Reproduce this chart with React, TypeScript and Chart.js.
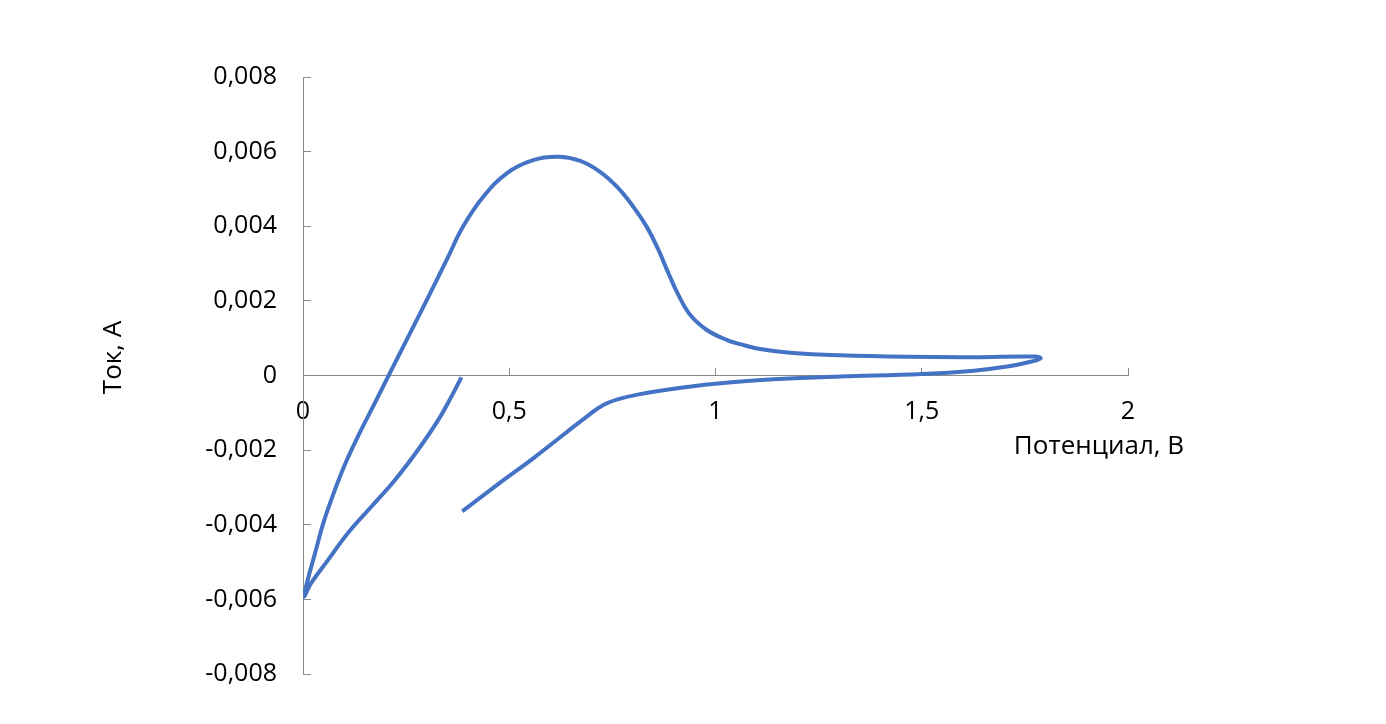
import React, { useEffect, useRef } from "react";
import { Chart, registerables } from "chart.js";

Chart.register(...registerables);

// Potential (V) and current (A) along the measured path
const potential = [
  0.386, 0.477, 0.558, 0.639, 0.688, 0.728, 0.769, 0.817, 0.866, 0.930, 0.999,
  1.141, 1.303, 1.501, 1.626, 1.707, 1.764, 1.788, 1.776,
  1.626, 1.464, 1.303, 1.181, 1.108, 1.060, 1.028, 0.979, 0.939, 0.910, 0.886, 0.862, 0.833,
  0.801, 0.761, 0.720, 0.672, 0.619, 0.558, 0.494, 0.437, 0.388, 0.348, 0.300, 0.251, 0.2145,
  0.174, 0.1368, 0.1029, 0.0745, 0.0494, 0.0293, 0.0138, 0.0025,
  0.020, 0.061, 0.109, 0.166, 0.223, 0.279, 0.328, 0.360, 0.384,
];
const current = [
  -0.00364, -0.00288, -0.00222, -0.00152, -0.00110, -0.00079, -0.00062, -0.00050, -0.00041, -0.00031, -0.00022,
  -0.00010, -0.00003, 0.00004, 0.00013, 0.00024, 0.00037, 0.00046, 0.00051,
  0.00049, 0.00050, 0.00054, 0.00061, 0.00071, 0.00084, 0.00095, 0.00122, 0.00162, 0.00216, 0.00274, 0.00336, 0.00399,
  0.00452, 0.00506, 0.00546, 0.00575, 0.00586, 0.00577, 0.00542, 0.00479, 0.00399, 0.00309, 0.00202, 0.00095, 0.00015,
  -0.00074, -0.00155, -0.00235, -0.00315, -0.00395, -0.00476, -0.00538, -0.00592,
  -0.00556, -0.00494, -0.00422, -0.00351, -0.00280, -0.00199, -0.00119, -0.00056, -0.00005,
];

const xTicks = [0, 0.5, 1, 1.5, 2];
const xTickLabels = ["0", "0,5", "1", "1,5", "2"];
const yTicks = [-0.008, -0.006, -0.004, -0.002, 0, 0.002, 0.004, 0.006, 0.008];
const yTickLabels = ["-0,008", "-0,006", "-0,004", "-0,002", "0", "0,002", "0,004", "0,006", "0,008"];

const xTitle = "Потенциал, В";
const yTitle = "Ток, А";

const FONT = "'Open Sans', 'Noto Sans', sans-serif";
const AXIS_COLOR = "#898989";

const titlesPlugin = {
  id: "axisTitles",
  afterDraw(chart: any) {
    const { ctx, chartArea, scales } = chart;
    const zeroY = scales.y.getPixelForValue(0);
    ctx.save();
    ctx.fillStyle = "#000000";
    ctx.font = `26px ${FONT}`;
    ctx.textAlign = "center";
    ctx.textBaseline = "alphabetic";
    ctx.fillText(xTitle, chartArea.right - 29, zeroY + 78);
    ctx.translate(chartArea.left - 182, (chartArea.top + chartArea.bottom) / 2 - 18);
    ctx.rotate(-Math.PI / 2);
    ctx.fillText(yTitle, 0, 0);
    ctx.restore();
  },
};

export default function App() {
  const ref = useRef<HTMLCanvasElement | null>(null);

  useEffect(() => {
    if (!ref.current) return;
    const data = potential.map((x, i) => ({ x, y: current[i] }));
    const chart = new Chart(ref.current, {
      type: "scatter",
      data: {
        datasets: [
          {
            data,
            showLine: true,
            borderColor: "#4472C4",
            backgroundColor: "#4472C4",
            borderWidth: 4,
            pointRadius: 0,
            tension: 0.4,
            capBezierPoints: false,
            borderCapStyle: "butt",
            borderJoinStyle: "round",
          } as any,
        ],
      },
      options: {
        responsive: false,
        animation: false,
        events: [],
        layout: { padding: { left: 0, top: 77, right: 258, bottom: 50 } },
        plugins: { legend: { display: false }, tooltip: { enabled: false } },
        scales: {
          x: {
            type: "linear",
            min: 0,
            max: 2,
            position: { y: 0 } as any,
            afterBuildTicks: (s: any) => {
              s.ticks = xTicks.map((v) => ({ value: v }));
            },
            ticks: {
              callback: (_v: any, i: number) => xTickLabels[i],
              font: { family: FONT, size: 25 },
              color: "#000000",
              padding: 29,
              maxRotation: 0,
              autoSkip: false,
            },
            grid: { drawOnChartArea: false, drawTicks: true, tickLength: -8, color: AXIS_COLOR, lineWidth: 1 },
            border: { color: AXIS_COLOR, width: 1 },
          },
          y: {
            type: "linear",
            min: -0.008,
            max: 0.008,
            position: "left",
            afterBuildTicks: (s: any) => {
              s.ticks = yTicks.map((v) => ({ value: v }));
            },
            afterFit: (s: any) => {
              s.width = 303;
            },
            ticks: {
              callback: (_v: any, i: number) => yTickLabels[i],
              font: { family: FONT, size: 25 },
              color: "#000000",
              padding: 34,
              autoSkip: false,
            },
            grid: { drawOnChartArea: false, drawTicks: true, tickLength: -8, color: AXIS_COLOR, lineWidth: 1 },
            border: { color: AXIS_COLOR, width: 1 },
          },
        },
      },
      plugins: [titlesPlugin],
    });
    return () => chart.destroy();
  }, []);

  return (
    <div style={{ position: "fixed", left: 0, top: 0, width: 1386, height: 724, background: "#ffffff" }}>
      <canvas ref={ref} width={1386} height={724} />
    </div>
  );
}
